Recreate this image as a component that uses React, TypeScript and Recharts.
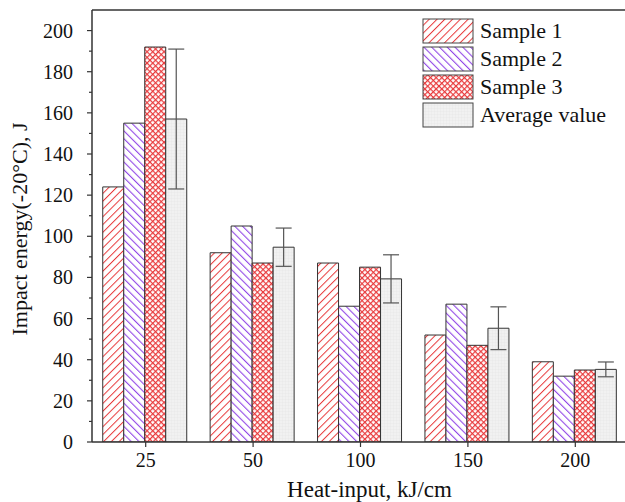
import React from "react";
import { BarChart, Bar, XAxis, YAxis, ErrorBar, Legend, ReferenceLine } from "recharts";

// values
const heatInputs = ["25", "50", "100", "150", "200"];
const sample1 = [124, 92, 87, 52, 39];
const sample2 = [155, 105, 66, 67, 32];
const sample3 = [192, 87, 85, 47, 35];
const average = [157, 94.7, 79.3, 55.3, 35.3];
const stdDev = [34, 9.3, 11.7, 10.4, 3.6];
const yTicks = [0, 10, 20, 30, 40, 50, 60, 70, 80, 90, 100, 110, 120, 130, 140, 150, 160, 170, 180, 190, 200];

const rows = heatInputs.map((h, i) => ({
  heat: h,
  s1: sample1[i],
  s2: sample2[i],
  s3: sample3[i],
  avg: average[i],
  err: stdDev[i],
}));

const FONT = '"Liberation Serif", "Times New Roman", serif';
const RED = "#e8393b";
const PURPLE = "#9147e6";
const AXIS = "#333";
const TICK_SIZE = 5;
const TICK_MARGIN = 14;

const series = [
  { key: "s1", name: "Sample 1", pattern: "pat-s1" },
  { key: "s2", name: "Sample 2", pattern: "pat-s2" },
  { key: "s3", name: "Sample 3", pattern: "pat-s3" },
  { key: "avg", name: "Average value", pattern: "pat-avg" },
];

const YTick = (props: any) => {
  const { x, y, payload } = props;
  const v = payload.value;
  const major = v % 20 === 0;
  const axisX = x + TICK_MARGIN + TICK_SIZE;
  return (
    <g>
      <line x1={axisX} x2={axisX - (major ? 5 : 3)} y1={y} y2={y} stroke={AXIS} strokeWidth={1.2} />
      {major && (
        <text x={x} y={y} dy="0.35em" textAnchor="end" fill="#111" fontSize={20} fontFamily={FONT}>
          {v}
        </text>
      )}
    </g>
  );
};

// rotated y-axis title
const YTitle = () => {
  const cx = 19;
  const cy = 229;
  return (
    <text
      x={cx}
      y={cy}
      dy="0.35em"
      transform={`rotate(-90, ${cx}, ${cy})`}
      textAnchor="middle"
      fill="#111"
      fontSize={22}
      fontFamily={FONT}
    >
      Impact energy(-20°C), J
    </text>
  );
};

const renderLegend = () => (
  <div style={{ fontFamily: FONT, fontSize: 22, color: "#111" }}>
    {series.map((s) => (
      <div key={s.key} style={{ display: "flex", alignItems: "center", height: 28 }}>
        <svg width={52} height={26} style={{ display: "block" }}>
          <rect x={1} y={1} width={50} height={24} fill={`url(#${s.pattern})`} stroke="#444" strokeWidth={1} />
        </svg>
        <span style={{ marginLeft: 6, lineHeight: "26px", whiteSpace: "nowrap" }}>{s.name}</span>
      </div>
    ))}
  </div>
);

export default function App() {
  return (
    <div style={{ position: "absolute", left: 0, top: 0, width: 625, height: 502, overflow: "hidden", background: "#fff" }}>
      <BarChart
        width={640}
        height={502}
        data={rows}
        margin={{ top: 10, right: 11, left: 0, bottom: 0 }}
        barCategoryGap="10%"
        barGap={0}
      >
        <defs>
          <pattern id="pat-s1" width="5.5" height="5.5" patternUnits="userSpaceOnUse" patternTransform="rotate(45)">
            <rect width="5.5" height="5.5" fill="#fff" />
            <line x1="0" y1="0" x2="0" y2="5.5" stroke={RED} strokeWidth="2" />
          </pattern>
          <pattern id="pat-s2" width="5.5" height="5.5" patternUnits="userSpaceOnUse" patternTransform="rotate(-45)">
            <rect width="5.5" height="5.5" fill="#fff" />
            <line x1="0" y1="0" x2="0" y2="5.5" stroke={PURPLE} strokeWidth="2.2" />
          </pattern>
          <pattern id="pat-s3" width="4" height="4" patternUnits="userSpaceOnUse" patternTransform="rotate(45)">
            <rect width="4" height="4" fill="#fff" />
            <line x1="0" y1="0" x2="0" y2="4" stroke={RED} strokeWidth="2.4" />
            <line x1="0" y1="0" x2="4" y2="0" stroke={RED} strokeWidth="2.4" />
          </pattern>
          <pattern id="pat-avg" width="3" height="3" patternUnits="userSpaceOnUse">
            <rect width="3" height="3" fill="#f1f1f1" />
            <line x1="0" y1="0" x2="3" y2="0" stroke="#e2e2e2" strokeWidth="0.6" />
            <line x1="0" y1="0" x2="0" y2="3" stroke="#e2e2e2" strokeWidth="0.6" />
          </pattern>
        </defs>
        <XAxis
          dataKey="heat"
          height={60}
          tick={{ fill: "#111", fontSize: 20, fontFamily: FONT }}
          tickSize={5}
          tickMargin={6}
          axisLine={{ stroke: AXIS, strokeWidth: 1.5 }}
          tickLine={{ stroke: AXIS, strokeWidth: 1.2 }}
          label={{
            value: "Heat-input, kJ/cm",
            position: "insideBottom",
            offset: 5,
            dx: 9,
            fill: "#111",
            fontSize: 23,
            fontFamily: FONT,
          }}
        />
        <YAxis
          width={92}
          domain={[0, 210]}
          ticks={yTicks}
          interval={0}
          allowDataOverflow
          tick={<YTick />}
          tickSize={TICK_SIZE}
          tickMargin={TICK_MARGIN}
          tickLine={false}
          axisLine={{ stroke: AXIS, strokeWidth: 1.5 }}
          label={<YTitle />}
        />
        <ReferenceLine y={210} stroke={AXIS} strokeWidth={1.5} />
        <Legend
          layout="vertical"
          align="center"
          verticalAlign="middle"
          content={renderLegend}
          wrapperStyle={{ left: 422, top: 17, width: 200, height: 115 }}
        />
        {series.map((s) => (
          <Bar
            key={s.key}
            dataKey={s.key}
            name={s.name}
            fill={`url(#${s.pattern})`}
            stroke="#333"
            strokeWidth={1}
            isAnimationActive={false}
          >
            {s.key === "avg" && (
              <ErrorBar dataKey="err" width={8} stroke="#555" strokeWidth={1.2} direction="y" isAnimationActive={false} />
            )}
          </Bar>
        ))}
      </BarChart>
    </div>
  );
}
